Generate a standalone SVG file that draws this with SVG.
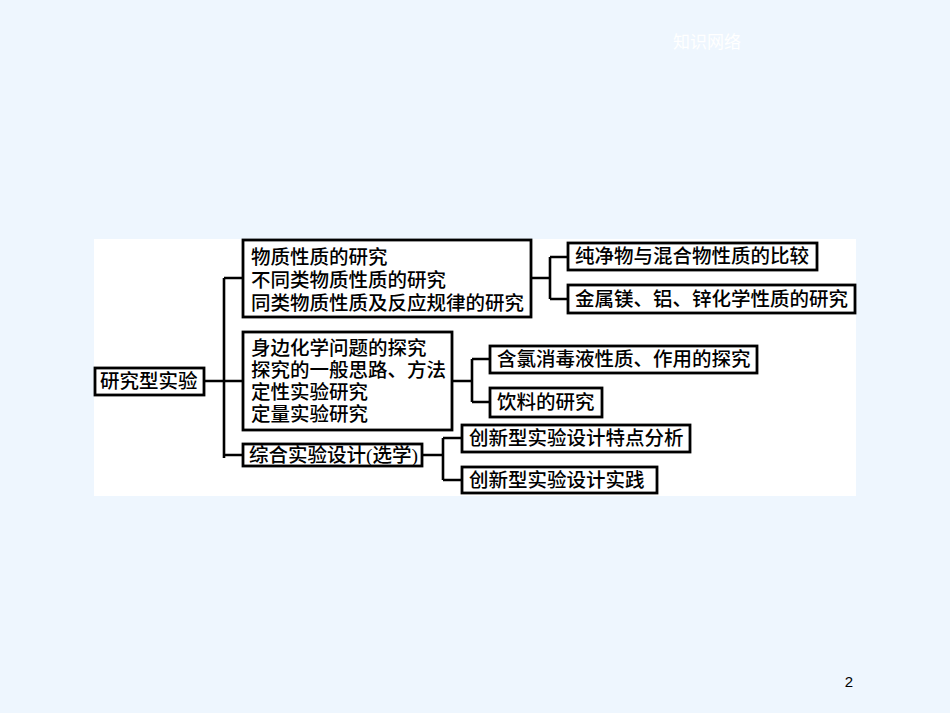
<svg xmlns="http://www.w3.org/2000/svg" width="950" height="713" viewBox="0 0 950 713">
<style>
.box{fill:#fff;stroke:#000;stroke-width:2.8}
.t{font-family:"Liberation Serif","Noto Sans CJK SC",serif;font-size:19.5px;font-weight:500;fill:#000}
.ln{fill:none;stroke:#000;stroke-width:2.6}
</style>
<rect x="0" y="0" width="950" height="713" fill="#EEF6FE"/>
<text x="673" y="48" font-family="Liberation Sans,Noto Sans CJK SC,sans-serif" font-size="17" fill="#ffffff">知识网络</text>
<rect x="94" y="239" width="762" height="257" fill="#ffffff"/>
<g id="connectors">
<path class="ln" d="M204 381H224M224 278V458M224 278H243M224 381H243M224 455H243"/>
<path class="ln" d="M531 278H550M550 257V299M550 257H568M550 299H568"/>
<path class="ln" d="M452 381H472M472 359V402M472 359H490M472 402H490"/>
<path class="ln" d="M422 455H443M443 438V480M443 438H462M443 480H462"/>
</g>
<g id="root"><rect class="box" x="95" y="368" width="109" height="27"/><text class="t" x="100" y="388">研究型实验</text></g>
<g id="n1"><rect class="box" x="243" y="240" width="288" height="77"/>
<text class="t" x="251" y="264">物质性质的研究</text>
<text class="t" x="251" y="287">不同类物质性质的研究</text>
<text class="t" x="251" y="310">同类物质性质及反应规律的研究</text></g>
<g id="n2"><rect class="box" x="243" y="332" width="209" height="98"/>
<text class="t" x="251" y="355">身边化学问题的探究</text>
<text class="t" x="251" y="377">探究的一般思路、方法</text>
<text class="t" x="251" y="399">定性实验研究</text>
<text class="t" x="251" y="421">定量实验研究</text></g>
<g id="n3"><rect class="box" x="243" y="444" width="179" height="22"/><text class="t" x="249" y="462">综合实验设计(选学)</text></g>
<g id="n11"><rect class="box" x="568" y="243" width="249" height="27"/><text class="t" x="575" y="263">纯净物与混合物性质的比较</text></g>
<g id="n12"><rect class="box" x="568" y="285" width="287" height="28"/><text class="t" x="575" y="306">金属镁、铝、锌化学性质的研究</text></g>
<g id="n21"><rect class="box" x="490" y="346" width="267" height="27"/><text class="t" x="497" y="366">含氯消毒液性质、作用的探究</text></g>
<g id="n22"><rect class="box" x="490" y="388" width="112" height="29"/><text class="t" x="497" y="409">饮料的研究</text></g>
<g id="n31"><rect class="box" x="462" y="425" width="228" height="27"/><text class="t" x="469" y="445">创新型实验设计特点分析</text></g>
<g id="n32"><rect class="box" x="462" y="467" width="195" height="26"/><text class="t" x="469" y="487">创新型实验设计实践</text></g>
<text x="849" y="687" text-anchor="middle" font-family="Liberation Sans,sans-serif" font-size="15" fill="#000">2</text>
</svg>
